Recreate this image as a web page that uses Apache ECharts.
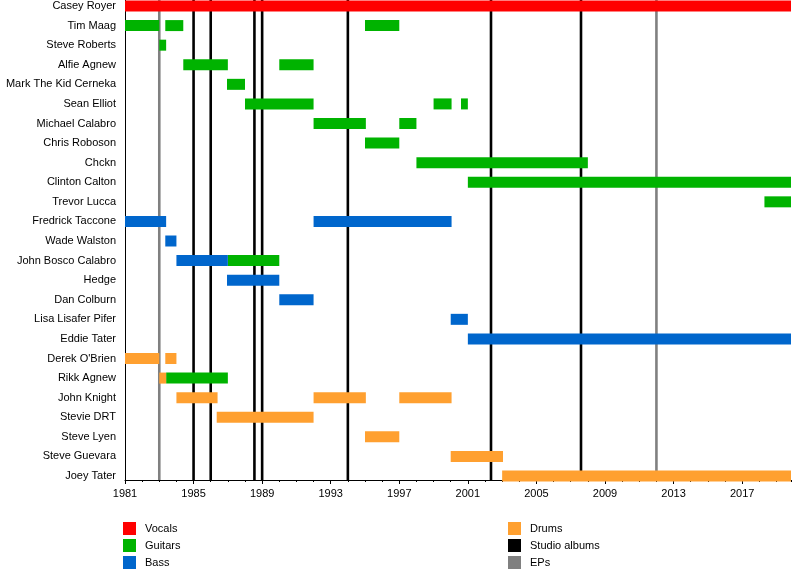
<!DOCTYPE html>
<html><head><meta charset="utf-8">
<script src="https://cdn.jsdelivr.net/npm/echarts@6/dist/echarts.min.js"></script>
<style>html,body{margin:0;padding:0;background:#fff}#c{width:800px;height:580px}</style>
</head><body><div id="c"></div>
<script>
const members = ['Casey Royer','Tim Maag','Steve Roberts','Alfie Agnew','Mark The Kid Cerneka','Sean Elliot','Michael Calabro','Chris Roboson','Chckn','Clinton Calton','Trevor Lucca','Fredrick Taccone','Wade Walston','John Bosco Calabro','Hedge','Dan Colburn','Lisa Lisafer Pifer','Eddie Tater',"Derek O'Brien",'Rikk Agnew','John Knight','Stevie DRT','Steve Lyen','Steve Guevara','Joey Tater'];

const vocals = [['Casey Royer',1981,2019.85]];
const guitars = [
  ['Tim Maag',1981,1983],['Tim Maag',1983.35,1984.4],['Tim Maag',1995,1997],
  ['Steve Roberts',1983,1983.4],
  ['Alfie Agnew',1984.4,1987],['Alfie Agnew',1990,1992],
  ['Mark The Kid Cerneka',1986.95,1988],
  ['Sean Elliot',1988,1992],['Sean Elliot',1999,2000.05],['Sean Elliot',2000.6,2001],
  ['Michael Calabro',1992,1995.05],['Michael Calabro',1997,1998],
  ['Chris Roboson',1995,1997],
  ['Chckn',1998,2008],
  ['Clinton Calton',2001,2019.85],
  ['Trevor Lucca',2018.3,2019.85],
  ['John Bosco Calabro',1987,1990],
  ['Rikk Agnew',1983.4,1987]
];
const bass = [
  ['Fredrick Taccone',1981,1983.4],['Fredrick Taccone',1992,2000.05],
  ['Wade Walston',1983.35,1984],
  ['John Bosco Calabro',1984,1987],
  ['Hedge',1986.95,1990],
  ['Dan Colburn',1990,1992],
  ['Lisa Lisafer Pifer',2000,2001],
  ['Eddie Tater',2001,2019.85]
];
const drums = [
  ["Derek O'Brien",1981,1983],["Derek O'Brien",1983.35,1984],
  ['Rikk Agnew',1983,1983.4],
  ['John Knight',1984,1986.4],['John Knight',1992,1995.05],['John Knight',1997,2000.05],
  ['Stevie DRT',1986.35,1992],
  ['Steve Lyen',1995,1997],
  ['Steve Guevara',2000,2003.05],
  ['Joey Tater',2003,2019.85]
];
const studioAlbums = [1985, 1986, 1988.55, 1989, 1994, 2002.35, 2007.6];
const eps = [1983, 2012];
const tickLabels = [1981,1985,1989,1993,1997,2001,2005,2009,2013,2017];

const FONT = 'Liberation Sans, Arial, sans-serif';
const BAR_H = 11;

function barSeries(name, arr, color) {
  return {
    name, type: 'custom', xAxisIndex: 0, yAxisIndex: 0, z: 3,
    itemStyle: { color },
    encode: { x: [1, 2], y: 0 },
    data: arr.map(d => [members.indexOf(d[0]), d[1], d[2]]),
    renderItem: (params, api) => {
      const s = api.coord([api.value(1), api.value(0)]);
      const e = api.coord([api.value(2), api.value(0)]);
      return { type: 'rect', shape: { x: s[0], y: s[1] - BAR_H / 2, width: e[0] - s[0], height: BAR_H },
               style: { fill: color } };
    }
  };
}
function lineSeries(name, arr, color) {
  return {
    name, type: 'custom', xAxisIndex: 1, yAxisIndex: 1, z: 1,
    itemStyle: { color },
    encode: { x: 0 },
    data: arr.map(v => [v]),
    renderItem: (params, api) => {
      const a = api.coord([api.value(0), 1]);
      const b = api.coord([api.value(0), 0]);
      return { type: 'line', shape: { x1: a[0], y1: a[1], x2: b[0], y2: b[1] },
               style: { stroke: color, lineWidth: 2.6 } };
    }
  };
}

const chart = echarts.init(document.getElementById('c'), null, { renderer: 'canvas' });
const legendCommon = {
  orient: 'vertical', icon: 'rect', itemWidth: 13, itemHeight: 13, itemGap: 4,
  top: 517, selectedMode: false,
  textStyle: { fontSize: 11, color: '#000', fontFamily: FONT, padding: [0, 0, 0, 4] }
};
chart.setOption({
  animation: false,
  backgroundColor: '#fff',
  grid: [
    { left: 125, right: 9, top: 6, bottom: 104 },
    { left: 125, right: 9, top: 0, bottom: 100 }
  ],
  xAxis: [
    { type: 'value', gridIndex: 0, min: 1981, max: 2019.85, interval: 1, offset: 4,
      axisLine: { show: true, lineStyle: { color: '#000', width: 1 } },
      axisTick: { show: true, length: 2, lineStyle: { color: '#000' } },
      axisLabel: { show: false }, splitLine: { show: false } },
    { type: 'value', gridIndex: 1, min: 1981, max: 2019.85,
      axisLine: { show: false },
      axisTick: { show: true, length: 4, customValues: tickLabels, lineStyle: { color: '#000' } },
      axisLabel: { show: true, customValues: tickLabels, margin: 8, fontSize: 11, color: '#000', fontFamily: FONT,
                   formatter: v => String(v) },
      splitLine: { show: false } }
  ],
  yAxis: [
    { type: 'category', gridIndex: 0, data: members, inverse: true, boundaryGap: false,
      axisLine: { show: false }, axisTick: { show: false },
      axisLabel: { margin: 9, fontSize: 11, color: '#000', fontFamily: FONT },
      splitLine: { show: false } },
    { type: 'value', gridIndex: 1, min: 0, max: 1,
      axisLine: { show: true, lineStyle: { color: '#000', width: 1 } },
      axisTick: { show: false }, axisLabel: { show: false }, splitLine: { show: false } }
  ],
  legend: [
    Object.assign({}, legendCommon, { left: 118, data: ['Vocals', 'Guitars', 'Bass'] }),
    Object.assign({}, legendCommon, { left: 503, data: ['Drums', 'Studio albums', 'EPs'] })
  ],
  series: [
    lineSeries('Studio albums', studioAlbums, '#000000'),
    lineSeries('EPs', eps, '#808080'),
    barSeries('Vocals', vocals, '#ff0000'),
    barSeries('Guitars', guitars, '#00b300'),
    barSeries('Bass', bass, '#0066cc'),
    barSeries('Drums', drums, '#ffa030')
  ]
});
</script></body></html>
